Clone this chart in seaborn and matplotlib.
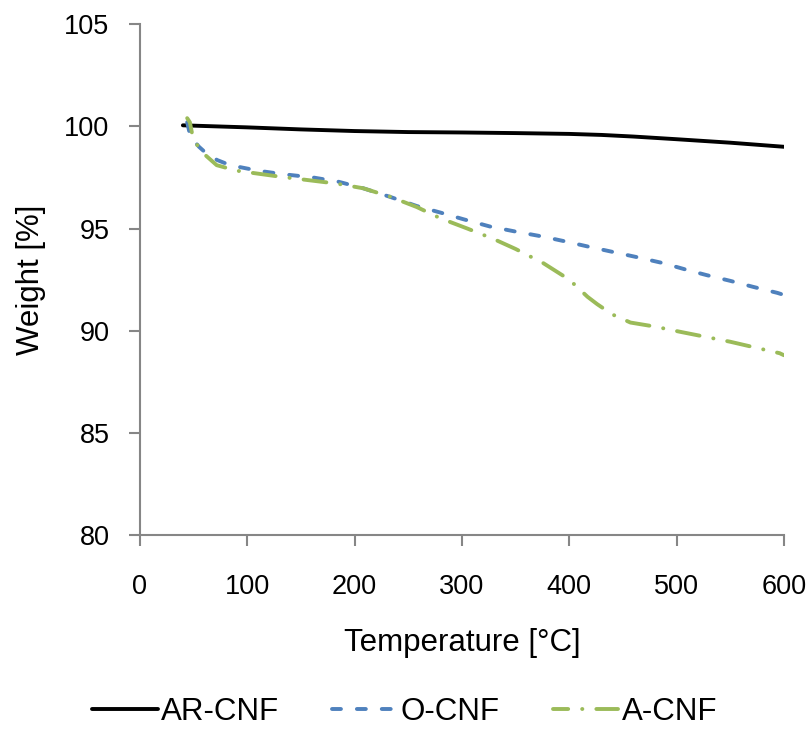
import numpy as np
import pandas as pd
import matplotlib
matplotlib.use("Agg")
import matplotlib.pyplot as plt
import seaborn as sns
from matplotlib.lines import Line2D

# Data
ar_temp = [40, 100, 150, 200, 250, 300, 350, 400, 430, 460, 500, 550, 600]
ar_weight = [100.05, 99.95, 99.85, 99.77, 99.72, 99.7, 99.67, 99.63, 99.58, 99.5, 99.37, 99.2, 99.0]

o_temp = [44, 47, 55, 62, 72, 84, 110, 133, 161, 185, 208, 233, 258, 280, 301, 326, 351, 376, 398, 419,
          441, 463, 488, 510, 528, 550, 571, 594, 600]
o_weight = [100.2, 99.5, 99.0, 98.67, 98.35, 98.1, 97.83, 97.66, 97.5, 97.29, 96.97, 96.55, 96.1, 95.78, 95.46,
            95.1, 94.84, 94.6, 94.35, 94.1, 93.85, 93.6, 93.3, 92.97, 92.72, 92.44, 92.15, 91.85, 91.75]

a_temp = [44, 46.5, 49.5, 57.5, 71.5, 90, 130, 183, 208, 233, 258, 280, 305, 329, 350, 376, 400, 417, 426,
          440, 457, 480, 503, 550, 596, 600]
a_weight = [100.4, 100.2, 99.4, 98.75, 98.1, 97.83, 97.54, 97.2, 96.97, 96.56, 96.05, 95.5, 95.0, 94.5,
            94.0, 93.3, 92.5, 91.66, 91.3, 90.8, 90.4, 90.2, 89.95, 89.46, 88.9, 88.8]

labels = ["AR-CNF", "O-CNF", "A-CNF"]

df = pd.concat([
    pd.DataFrame({"Temperature": ar_temp, "Weight": ar_weight, "Sample": labels[0]}),
    pd.DataFrame({"Temperature": o_temp, "Weight": o_weight, "Sample": labels[1]}),
    pd.DataFrame({"Temperature": a_temp, "Weight": a_weight, "Sample": labels[2]}),
], ignore_index=True)

sns.set_style("white")
plt.rcParams['font.family'] = ['Liberation Sans', 'DejaVu Sans']
plt.rcParams['text.color'] = 'black'
plt.rcParams['axes.labelcolor'] = 'black'

fig = plt.figure(figsize=(8.09, 7.32), dpi=100)
ax = fig.add_axes([0.173, 0.269, 0.796, 0.698])

palette = {"AR-CNF": "#000000", "O-CNF": "#4f81bd", "A-CNF": "#9bbb59"}
LW = 2.8
sns.lineplot(data=df, x="Temperature", y="Weight", hue="Sample", palette=palette,
             sort=False, estimator=None, ax=ax, linewidth=LW, legend=False)

styles = [(0, ()), (0, (2.3, 4.1)), (2.0, (5.9, 3.6, 0.05, 3.6))]
for line, st in zip(ax.get_lines(), styles):
    line.set_linestyle(st)
    line.set_solid_capstyle("round")
    line.set_dash_capstyle("round")

ax.set_xlim(0, 600)
ax.set_ylim(80, 105)
ax.set_xticks(range(0, 601, 100))
ax.set_yticks(range(80, 106, 5))

for side in ["top", "right"]:
    ax.spines[side].set_visible(False)
for side in ["left", "bottom"]:
    ax.spines[side].set_color("#868686")
    ax.spines[side].set_linewidth(1.5)

ax.tick_params(axis="both", which="major", direction="out", length=8, width=1.5,
               color="#868686", labelsize=19.5, labelcolor="black", left=True, bottom=True)
ax.tick_params(axis="x", pad=20)
ax.tick_params(axis="y", pad=14)

ax.set_xlabel("Temperature [°C]", fontsize=22.5, labelpad=20)
ax.set_ylabel("Weight [%]", fontsize=22.5, labelpad=13)

handles = [Line2D([], [], color=palette[l], linewidth=LW, linestyle=st, dash_capstyle="round")
           for l, st in zip(labels, styles)]
fig.legend(handles, labels, loc="lower center", bbox_to_anchor=(0.5, -0.032), ncol=3, frameon=False,
           fontsize=22.5, handlelength=2.1, handletextpad=0.1, columnspacing=1.7)

fig.savefig("out.png", dpi=100)
